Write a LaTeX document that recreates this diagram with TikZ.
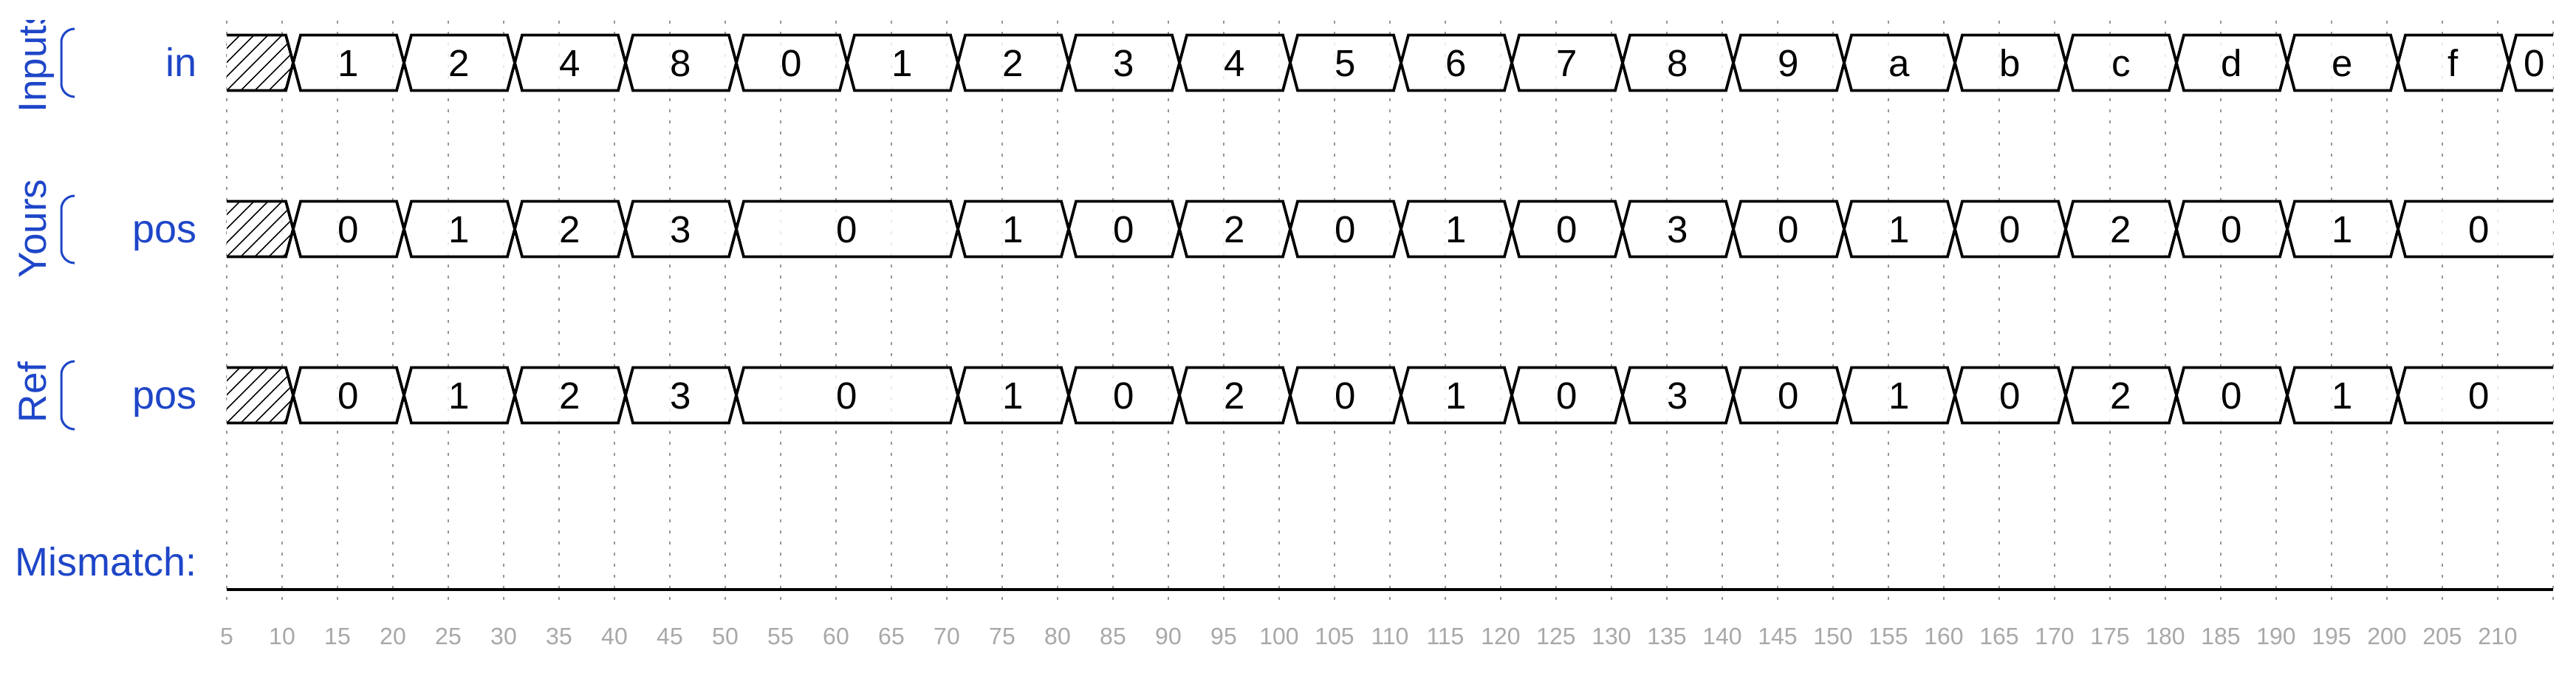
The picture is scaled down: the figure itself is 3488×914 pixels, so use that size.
\documentclass[tikz,border=0pt]{standalone}
\usepackage{fontspec}
\setmainfont{Liberation Sans}
\definecolor{lblue}{RGB}{30,70,200}
\definecolor{tickgray}{RGB}{168,168,168}
\definecolor{gridgray}{RGB}{150,150,150}
\tikzset{
 wave/.style={line width=0.95pt, line join=miter, black},
 valtext/.style={font=\fontsize{12.75}{14}\selectfont, anchor=base, inner sep=0pt},
 siglabel/.style={font=\fontsize{13.5}{15}\selectfont, text=lblue, anchor=base east, inner sep=0pt},
 grouplabel/.style={font=\fontsize{13.25}{15}\selectfont, text=lblue, rotate=90, anchor=base west, inner sep=0pt},
 bracket/.style={lblue, line width=0.75pt, rounded corners=4.5pt},
 gridline/.style={gridgray, line width=0.45pt, dash pattern=on 1pt off 2.75pt},
 ticklabel/.style={font=\fontsize{8}{9}\selectfont, text=tickgray, anchor=base, inner sep=0pt},
 boxfill/.style={fill=white, fill opacity=0.8},
 hatchline/.style={line width=0.4pt, black}
}
% segment: name, row centre y, t0, t1, label
\newcommand\wseg[5]{%
 \pgfmathsetmacro\wxa{232+15*#3}%
 \pgfmathsetmacro\wxb{232+15*#4}%
 \path[boxfill] (\wxa,#2) -- (\wxa+10,#2-37.5) -- (\wxb-10,#2-37.5) -- (\wxb,#2) -- (\wxb-10,#2+37.5) -- (\wxa+10,#2+37.5) -- cycle;
 \draw[wave] (\wxa,#2) -- (\wxa+10,#2-37.5) -- (\wxb-10,#2-37.5) -- (\wxb,#2) -- (\wxb-10,#2+37.5) -- (\wxa+10,#2+37.5) -- cycle;
 \node[valtext] (#1) at ({(\wxa+\wxb)/2},#2+18.3) {#5};
}
% open segment at right end: name, row centre y, t0, label
\newcommand\wopen[4]{%
 \pgfmathsetmacro\wxa{232+15*#3}%
 \path[boxfill] (\wxa,#2) -- (\wxa+10,#2-37.5) -- (3457,#2-37.5) -- (3457,#2+37.5) -- (\wxa+10,#2+37.5) -- cycle;
 \draw[wave] (3457,#2-37.5) -- (\wxa+10,#2-37.5) -- (\wxa,#2) -- (\wxa+10,#2+37.5) -- (3457,#2+37.5);
 \node[valtext] (#1) at ({(\wxa+10+3457)/2},#2+18.3) {#4};
}
% hatched undefined start: row centre y
\newcommand\whatch[1]{%
 \path[boxfill] (307,#1-37.5) -- (387,#1-37.5) -- (397,#1) -- (387,#1+37.5) -- (307,#1+37.5) -- cycle;
 \begin{scope}
 \clip (307,#1-37.5) -- (387,#1-37.5) -- (397,#1) -- (387,#1+37.5) -- (307,#1+37.5) -- cycle;
 \foreach \hx in {231,250,...,383} \draw[hatchline] (\hx,#1+37.5) -- (\hx+75,#1-37.5);
 \end{scope}
 \draw[wave] (307,#1-37.5) -- (387,#1-37.5) -- (397,#1) -- (387,#1+37.5) -- (307,#1+37.5);
}
\begin{document}
\begin{tikzpicture}[x=0.25pt,y=-0.25pt]
\useasboundingbox (0,0) rectangle (3488,914);
\fill[white] (0,0) rectangle (3488,914);
% grid
\foreach \t in {5,10,...,215} {
 \draw[gridline] (232+15*\t,28) -- (232+15*\t,814);
}
% tick labels
\foreach \t in {5,10,...,210} {
 \node[ticklabel] (tick\t) at (232+15*\t,872.7) {\t};
}
% group labels and brackets
\begin{scope}
 \clip (0,27) rectangle (3488,914);
 \node[grouplabel] (gInputs) at (62.5,153) {Inputs};
\end{scope}
\node[grouplabel] (gYours) at (62.5,377) {Yours};
\node[grouplabel] (gRef) at (62.5,573) {Ref};
\draw[bracket] (100,39) -- (83,39) -- (83,131) -- (100,131);
\draw[bracket] (100,265) -- (83,265) -- (83,356) -- (100,356);
\draw[bracket] (100,489) -- (83,489) -- (83,581) -- (100,581);
% signal labels
\node[siglabel] (lin) at (267,103.5) {in};
\node[siglabel] (lpos1) at (267,328.5) {pos};
\node[siglabel] (lpos2) at (267,553.5) {pos};
\node[siglabel] (lmis) at (267,779) {Mismatch:};
% in row
\whatch{85}
\foreach \a/\b/\l [count=\i] in {11/21/1,21/31/2,31/41/4,41/51/8,51/61/0,61/71/1,71/81/2,81/91/3,91/101/4,101/111/5,111/121/6,121/131/7,131/141/8,141/151/9,151/161/a,161/171/b,171/181/c,181/191/d,191/201/e,201/211/f} {
 \wseg{in\i}{85}{\a}{\b}{\l}
}
\wopen{inlast}{85}{211}{0}
% yours pos row
\whatch{310}
\foreach \a/\b/\l [count=\i] in {11/21/0,21/31/1,31/41/2,41/51/3,51/71/0,71/81/1,81/91/0,91/101/2,101/111/0,111/121/1,121/131/0,131/141/3,141/151/0,151/161/1,161/171/0,171/181/2,181/191/0,191/201/1} {
 \wseg{ypos\i}{310}{\a}{\b}{\l}
}
\wopen{yposlast}{310}{201}{0}
% ref pos row
\whatch{535}
\foreach \a/\b/\l [count=\i] in {11/21/0,21/31/1,31/41/2,41/51/3,51/71/0,71/81/1,81/91/0,91/101/2,101/111/0,111/121/1,121/131/0,131/141/3,141/151/0,151/161/1,161/171/0,171/181/2,181/191/0,191/201/1} {
 \wseg{rpos\i}{535}{\a}{\b}{\l}
}
\wopen{rposlast}{535}{201}{0}
% mismatch line
\coordinate (mm0) at (307,798);
\coordinate (mm1) at (3457,798);
\draw[wave] (mm0) -- (mm1);
\end{tikzpicture}
\end{document}
